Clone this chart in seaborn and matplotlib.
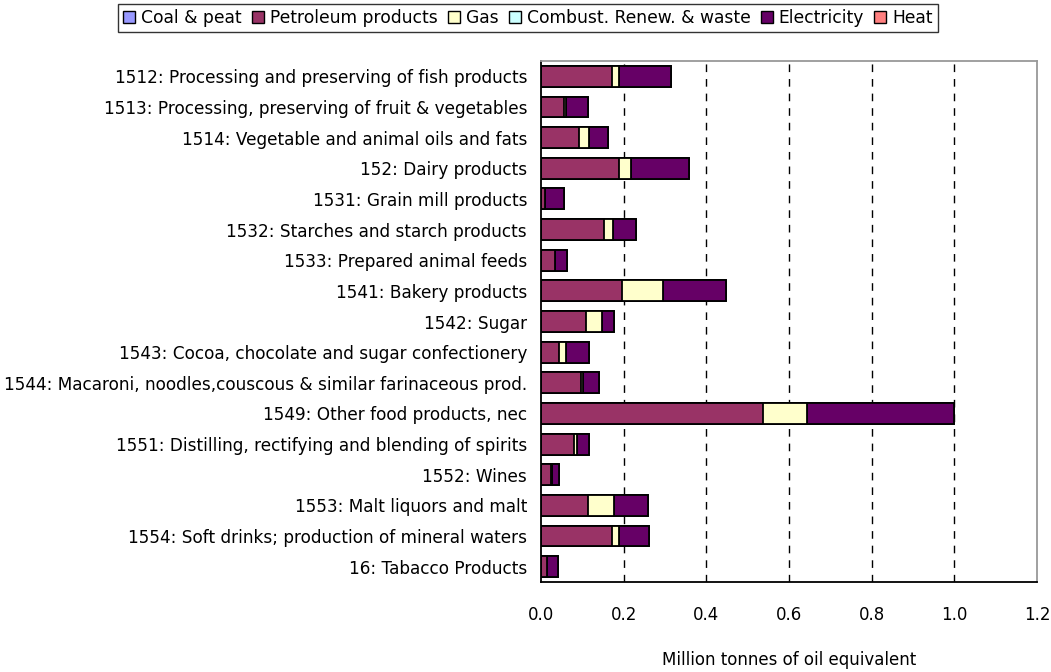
import numpy as np
import pandas as pd
import matplotlib
matplotlib.use("Agg")
import matplotlib.pyplot as plt
from matplotlib.patches import Patch
from matplotlib.ticker import FixedLocator
import seaborn as sns

# industries, top to bottom
industries = [
    "1512: Processing and preserving of fish products",
    "1513: Processing, preserving of fruit & vegetables",
    "1514: Vegetable and animal oils and fats",
    "152: Dairy products",
    "1531: Grain mill products",
    "1532: Starches and starch products",
    "1533: Prepared animal feeds",
    "1541: Bakery products",
    "1542: Sugar",
    "1543: Cocoa, chocolate and sugar confectionery",
    "1544: Macaroni, noodles,couscous & similar farinaceous prod.",
    "1549: Other food products, nec",
    "1551: Distilling, rectifying and blending of spirits",
    "1552: Wines",
    "1553: Malt liquors and malt",
    "1554: Soft drinks; production of mineral waters",
    "16: Tabacco Products",
]

# Million tonnes of oil equivalent
coal = [0, 0, 0, 0, 0, 0, 0, 0, 0, 0, 0, 0, 0, 0, 0, 0, 0]
petroleum = [0.171, 0.056, 0.092, 0.189, 0.010, 0.153, 0.035, 0.197, 0.109,
             0.044, 0.096, 0.536, 0.080, 0.023, 0.113, 0.172, 0.014]
gas = [0.018, 0.004, 0.024, 0.028, 0.000, 0.020, 0.000, 0.097, 0.039,
       0.016, 0.005, 0.108, 0.008, 0.004, 0.064, 0.017, 0.000]
combust = [0, 0, 0, 0, 0, 0, 0, 0, 0, 0, 0, 0, 0, 0, 0, 0, 0]
electricity = [0.126, 0.053, 0.045, 0.142, 0.046, 0.057, 0.029, 0.154, 0.029,
               0.057, 0.040, 0.356, 0.029, 0.017, 0.081, 0.072, 0.026]
heat = [0, 0, 0, 0, 0, 0, 0, 0, 0, 0, 0, 0, 0, 0, 0, 0, 0]

series_names = ["Coal & peat", "Petroleum products", "Gas",
                "Combust. Renew. & waste", "Electricity", "Heat"]
series_vals = [coal, petroleum, gas, combust, electricity, heat]
colors = ["#9999FF", "#993366", "#FFFFCC", "#CCFFFF", "#660066", "#FF8080"]

df = pd.DataFrame(dict(zip(series_names, series_vals)), index=industries)
cum = df.cumsum(axis=1)

sns.set_style("white")
plt.rcParams["font.family"] = ["DejaVu Sans"]
plt.rcParams["text.color"] = "black"
plt.rcParams["xtick.color"] = "black"
plt.rcParams["ytick.color"] = "black"
plt.rcParams["axes.labelcolor"] = "black"

fig = plt.figure(figsize=(10.51, 6.72), dpi=100)
ax = fig.add_axes([541 / 1051, 1 - 582 / 672, 496 / 1051, 521 / 672])

# stacked bars: draw cumulative totals from the last series back to the first
for name, col in reversed(list(zip(series_names, colors))):
    d = pd.DataFrame({"industry": industries, "value": cum[name].values})
    sns.barplot(data=d, y="industry", x="value", color=col, width=0.68,
                edgecolor="black", linewidth=1.3, saturation=1, ax=ax,
                orient="h", errorbar=None)

ax.set_xlim(0, 1.2)
ax.set_ylim(len(industries) - 0.5, -0.5)
ax.set_xticks(np.arange(0, 1.21, 0.2))
ax.set_xticklabels([f"{v:.1f}" for v in np.arange(0, 1.21, 0.2)])
ax.tick_params(axis="x", length=0, pad=17, labelsize=12)
ax.tick_params(axis="y", which="major", length=0, pad=10, labelsize=12.2)
ax.yaxis.set_minor_locator(FixedLocator(np.arange(-0.5, len(industries), 1)))
ax.tick_params(axis="y", which="minor", length=5, width=1, color="black", direction="out")
ax.set_ylabel("")
ax.set_xlabel("Million tonnes of oil equivalent", fontsize=12, labelpad=20)

for v in [0.2, 0.4, 0.6, 0.8, 1.0]:
    ax.axvline(v, color="black", linewidth=1, linestyle=(0, (5.5, 5)), zorder=0)

ax.spines["left"].set_color("black")
ax.spines["bottom"].set_color("black")
ax.spines["top"].set_color("#999999")
ax.spines["right"].set_color("#999999")
for s in ax.spines.values():
    s.set_linewidth(1.3)

handles = [Patch(facecolor=c, edgecolor="black", linewidth=1) for c in colors]
leg = fig.legend(handles, series_names, loc="center", bbox_to_anchor=(528 / 1051, 1 - 18 / 672),
                 ncol=6, frameon=True, fancybox=False, fontsize=12.3,
                 handlelength=0.7, handleheight=0.7, handletextpad=0.35,
                 columnspacing=0.6, borderpad=0.3, borderaxespad=0)
leg.get_frame().set_edgecolor("black")
leg.get_frame().set_linewidth(1)

fig.savefig("out.png", dpi=100)
